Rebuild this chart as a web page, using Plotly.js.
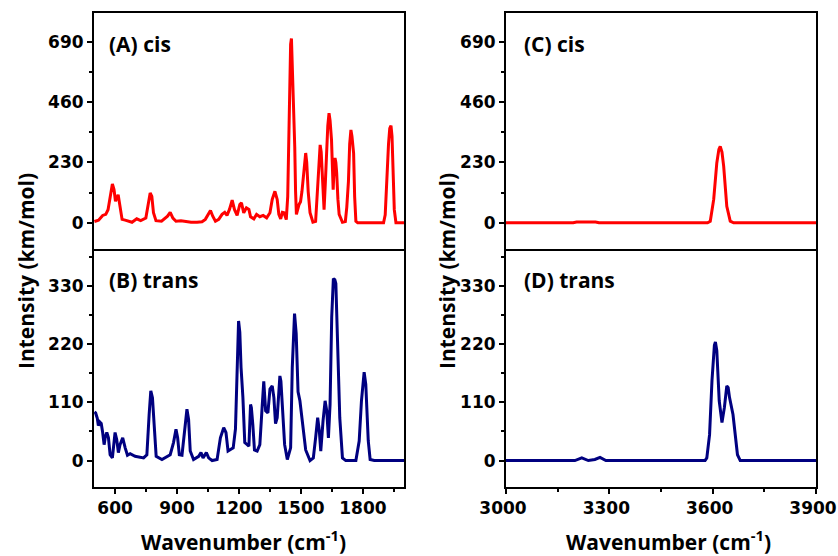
<!DOCTYPE html>
<html>
<head>
<meta charset="utf-8">
<script src="https://cdn.plot.ly/plotly-3.0.1.min.js"></script>
<style>html,body{margin:0;padding:0;background:#fff;}#chart{width:838px;height:556px;}</style>
</head>
<body>
<div id="chart"></div>
<script>
// (A) cis, 500-2000 cm-1
const cisLowX = [500,520,540,555,566,579,587,595,602,615,624,634,649,666,682,705,724,749,760,770,778,786,798,825,854,867,880,895,919,943,968,997,1021,1037,1053,1062,1073,1086,1102,1118,1131,1142,1154,1167,1178,1191,1204,1212,1223,1236,1248,1256,1272,1285,1301,1317,1334,1350,1361,1374,1385,1393,1402,1410,1418,1429,1436,1444,1450,1454,1458,1464,1470,1474,1478,1491,1498,1505,1512,1518,1523,1528,1535,1544,1558,1571,1583,1588,1593,1598,1604,1612,1618,1623,1630,1636,1641,1648,1652,1656,1661,1665,1669,1673,1679,1685,1701,1715,1722,1730,1736,1742,1747,1755,1760,1766,1775,1900,1908,1916,1924,1930,1936,1941,1946,1952,1960,2000];
const cisLowY = [5,10,28,32,50,120,148,127,82,107,63,13,10,6,2,15,8,18,63,114,101,38,8,6,25,40,18,6,8,4,2,2,4,13,32,47,25,6,13,32,40,28,51,86,51,28,70,76,38,57,51,23,15,32,23,28,19,38,89,120,89,32,15,40,38,12,100,450,680,703,610,400,290,120,32,70,80,120,177,240,266,230,120,38,2,5,164,250,297,270,179,50,150,253,370,418,390,316,200,126,220,247,230,190,90,32,2,5,60,158,300,354,330,266,100,6,0,0,30,177,300,360,370,330,200,50,0,0];

// (B) trans, 500-2000 cm-1
const transLowX = [500,506,514,519,526,533,540,547,553,560,568,576,587,600,608,616,624,637,649,660,673,697,738,754,765,773,781,789,799,827,851,867,883,895,903,911,924,935,948,956,964,980,1005,1016,1026,1042,1053,1070,1094,1110,1126,1137,1147,1159,1172,1183,1191,1198,1204,1210,1219,1228,1240,1248,1256,1260,1267,1275,1288,1301,1312,1320,1329,1340,1350,1361,1369,1377,1385,1398,1403,1409,1421,1434,1450,1458,1469,1477,1486,1495,1507,1523,1544,1560,1571,1581,1589,1596,1607,1617,1625,1633,1641,1649,1657,1664,1669,1677,1688,1701,1717,1766,1782,1793,1806,1814,1826,1835,1855,2000];
const transLowY = [92,90,80,66,73,70,53,30,45,53,43,11,5,53,40,15,30,43,24,10,13,8,5,11,87,132,119,62,8,2,8,11,34,59,43,11,10,49,97,78,18,2,8,15,5,15,5,0,2,43,62,53,18,21,24,60,157,264,243,176,119,34,30,27,106,100,68,20,18,30,100,150,94,90,135,141,119,70,81,160,150,100,30,2,24,176,278,240,130,113,68,20,0,5,43,81,56,18,75,113,94,43,106,271,344,342,335,220,81,5,0,0,37,113,167,144,37,2,0,0];

// (C) cis, 3000-3900 cm-1
const cisHighX = [3000,3195,3205,3260,3270,3585,3593,3603,3612,3618,3622,3627,3632,3641,3651,3661,3900];
const cisHighY = [0,0,3,3,0,0,6,89,228,280,291,270,215,63,6,0,0];

// (D) trans, 3000-3900 cm-1
const transHighX = [3000,3200,3220,3239,3258,3273,3290,3578,3583,3591,3598,3605,3608,3612,3619,3627,3634,3641,3645,3649,3659,3666,3672,3680,3900];
const transHighY = [0,0,5,0,2,6,0,0,5,49,151,218,224,208,113,72,100,141,138,119,87,49,11,0,0];

const panelLabels = ['(A) cis','(B) trans','(C) cis','(D) trans'];
const yTitle = 'Intensity (km/mol)';
const xTitle = 'Wavenumber (cm<sup>-1</sup>)';

const RED = '#FF0000', NAVY = '#000080';
const tickFont = {family:'DejaVu Sans, Arial, sans-serif', size:17, color:'#000', weight:'bold'};
const titleFont = {family:'Open Sans, Arial, sans-serif', size:21, color:'#000', weight:'bold'};

const traces = [
  {x:cisLowX, y:cisLowY, xaxis:'x', yaxis:'y', type:'scatter', mode:'lines', line:{color:RED, width:3}, hoverinfo:'skip'},
  {x:transLowX, y:transLowY, xaxis:'x2', yaxis:'y2', type:'scatter', mode:'lines', line:{color:NAVY, width:3}, hoverinfo:'skip'},
  {x:cisHighX, y:cisHighY, xaxis:'x3', yaxis:'y3', type:'scatter', mode:'lines', line:{color:RED, width:3}, hoverinfo:'skip'},
  {x:transHighX, y:transHighY, xaxis:'x4', yaxis:'y4', type:'scatter', mode:'lines', line:{color:NAVY, width:3}, hoverinfo:'skip'}
];

const W = 838, H = 556;
const px = v => v / W;
const py = v => (H - v) / H;
const leftDom = [px(94), px(404)];
const rightDom = [px(506), px(816)];
const topDom = [py(249), py(13)];
const botDom = [py(487), py(249)];

function xa(domain, range, anchor, showLabels, shift) {
  return {
    domain, range, anchor, showgrid:false, zeroline:false,
    showline:true, linecolor:'#000', linewidth:2,
    mirror: !showLabels,
    ticks: showLabels ? 'outside' : '', ticklen:5, tickwidth:2, tickcolor:'#000',
    tick0:0, dtick:300, showticklabels:showLabels, tickfont:tickFont,
    ticklabeloverflow:'allow', ticklabelshift: shift || 0,
    minor: showLabels ? {ticks:'outside', dtick:150, tick0:0, ticklen:3, tickwidth:2, tickcolor:'#000'} : undefined,
    fixedrange:true
  };
}
function ya(domain, range, anchor, dtick) {
  return {
    domain, range, anchor, showgrid:false, zeroline:false,
    showline:true, linecolor:'#000', linewidth:2, mirror:true,
    ticks:'outside', ticklen:5, tickwidth:2, tickcolor:'#000',
    tick0:0, dtick:dtick, tickfont:tickFont,
    minor:{ticks:'outside', dtick:dtick/2, tick0:0, ticklen:3, tickwidth:2, tickcolor:'#000'},
    fixedrange:true
  };
}

const ann = (text, x, y, opts) => Object.assign({text, x, y, xref:'paper', yref:'paper', showarrow:false, font:titleFont, xanchor:'left', yanchor:'middle'}, opts || {});

const layout = {
  width:W, height:H, margin:{l:0,r:0,t:0,b:0},
  paper_bgcolor:'#fff', plot_bgcolor:'#fff', showlegend:false,
  xaxis: xa(leftDom, [498,1999], 'y', false),
  yaxis: ya(topDom, [-100,800], 'x', 230),
  xaxis2: xa(leftDom, [498,1999], 'y2', true),
  yaxis2: ya(botDom, [-50,400], 'x2', 110),
  xaxis3: xa(rightDom, [3000,3900], 'y3', false),
  yaxis3: ya(topDom, [-100,800], 'x3', 230),
  xaxis4: xa(rightDom, [3000,3900], 'y4', true, -3),
  yaxis4: ya(botDom, [-50,400], 'x4', 110),
  annotations: [
    ann(panelLabels[0], px(107), py(44)),
    ann(panelLabels[1], px(107), py(280)),
    ann(panelLabels[2], px(522), py(44)),
    ann(panelLabels[3], px(522), py(280)),
    ann(yTitle, px(26), py(271), {xanchor:'center', textangle:-90}),
    ann(yTitle, px(447), py(271), {xanchor:'center', textangle:-90}),
    ann(xTitle, px(243), py(540), {xanchor:'center'}),
    ann(xTitle, px(668), py(540), {xanchor:'center'})
  ]
};

Plotly.newPlot('chart', traces, layout, {staticPlot:true, displayModeBar:false});
</script>
</body>
</html>
